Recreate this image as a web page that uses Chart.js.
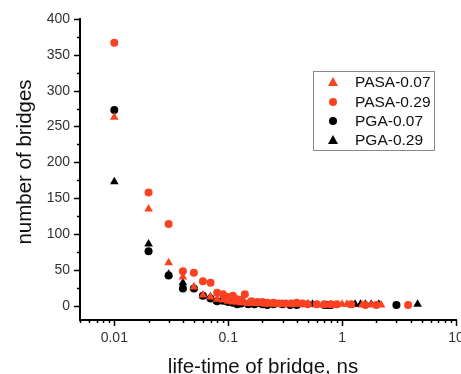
<!DOCTYPE html>
<html>
<head>
<meta charset="utf-8">
<script src="https://cdn.jsdelivr.net/npm/chart.js@4.4.1/dist/chart.umd.min.js"></script>
<style>
  body { margin: 0; background: #fff; }
  canvas { display: block; }
</style>
</head>
<body>
<canvas id="bridgeChart" width="461" height="374"></canvas>
<script>
// life-time (ns) and number of bridges
const pasa007X = [0.01, 0.02, 0.03, 0.04, 0.05, 0.06, 0.07, 0.08, 0.09, 0.1, 0.11, 0.12, 0.13, 0.14, 0.15, 0.17, 0.19, 0.21, 0.24, 0.27, 0.3, 0.35, 0.4, 0.5, 0.6, 0.7, 0.8, 1.0, 1.1, 1.2, 1.5, 1.8, 2.2];
const pasa007Y = [263, 135, 60, 40, 26, 15, 12, 9, 8, 6, 5, 5, 4, 4, 3, 3, 3, 2, 2, 2, 2, 2, 2, 2, 1, 1, 1, 2, 2, 1, 1, 1, 1];

const pasa029X = [0.01, 0.02, 0.03, 0.04, 0.05, 0.06, 0.07, 0.08, 0.09, 0.1, 0.11, 0.12, 0.13, 0.14, 0.16, 0.18, 0.2, 0.22, 0.25, 0.28, 0.32, 0.36, 0.4, 0.45, 0.5, 0.6, 0.7, 0.8, 0.9, 1.2, 1.6, 2.0, 3.8];
const pasa029Y = [367, 158, 114, 48, 46, 34, 32, 18, 16, 12, 14, 9, 8, 16, 6, 5, 5, 4, 4, 3, 3, 3, 4, 3, 2, 2, 2, 2, 2, 2, 1, 1, 1];

const pga007X = [0.01, 0.02, 0.03, 0.04, 0.05, 0.06, 0.07, 0.08, 0.09, 0.1, 0.11, 0.12, 0.13, 0.15, 0.17, 0.2, 0.22, 0.25, 0.3, 0.35, 0.4, 0.7, 0.75, 0.8, 3.0];
const pga007Y = [273, 76, 42, 24, 24, 14, 10, 6, 7, 5, 4, 2, 3, 2, 2, 2, 1, 2, 2, 1, 1, 1, 1, 1, 1];

const pga029X = [0.01, 0.02, 0.03, 0.04, 0.05, 0.06, 0.07, 0.08, 0.09, 0.1, 0.11, 0.12, 0.14, 0.16, 0.18, 0.2, 0.23, 0.26, 0.3, 0.5, 0.55, 1.3, 1.45, 1.6, 1.8, 2.1, 4.6];
const pga029Y = [173, 86, 44, 32, 25, 14, 12, 6, 7, 5, 4, 4, 3, 3, 2, 3, 2, 2, 2, 2, 2, 2, 2, 2, 2, 2, 2];

const seriesNames = ['PASA-0.07', 'PASA-0.29', 'PGA-0.07', 'PGA-0.29'];
const xTickLabels = [0.01, 0.1, 1, 10];
const yTickLabels = [0, 50, 100, 150, 200, 250, 300, 350, 400];

const RED = '#fa4122';
const BLACK = '#000000';

function toPoints(xs, ys) {
    return xs.map((x, i) => ({ x: x, y: ys[i] }));
}

function makeSet(label, xs, ys, color, style, radius) {
    return {
        label: label,
        data: toPoints(xs, ys),
        pointStyle: style,
        pointRadius: radius,
        pointHoverRadius: radius,
        backgroundColor: color,
        borderColor: color,
        pointBorderWidth: 0,
        showLine: false
    };
}

// ticks, minor ticks, axis titles and the boxed legend
const extrasPlugin = {
    id: 'extras',
    afterDraw(chart) {
        const ctx = chart.ctx;
        const xs = chart.scales.x;
        const ys = chart.scales.y;
        const area = chart.chartArea;
        ctx.save();
        ctx.strokeStyle = '#000';
        ctx.lineWidth = 1.5;

        // y ticks
        for (let v = 0; v <= 400; v += 25) {
            const py = Math.round(ys.getPixelForValue(v)) + 0.5;
            const len = v % 50 === 0 ? 6 : 3;
            ctx.beginPath();
            ctx.moveTo(area.left, py);
            ctx.lineTo(area.left - len, py);
            ctx.stroke();
        }
        // x ticks (log)
        for (let e = -3; e <= 1; e++) {
            for (let m = 1; m <= 9; m++) {
                const v = m * Math.pow(10, e);
                if (v < xs.min * 0.999 || v > xs.max * 1.001) continue;
                const px = Math.round(xs.getPixelForValue(v)) + 0.5;
                const len = m === 1 ? 6 : 3;
                ctx.beginPath();
                ctx.moveTo(px, area.bottom);
                ctx.lineTo(px, area.bottom + len);
                ctx.stroke();
            }
        }

        // axis titles
        ctx.fillStyle = '#111';
        ctx.font = '20.5px "Liberation Sans", Arial, sans-serif';
        ctx.textAlign = 'center';
        ctx.textBaseline = 'alphabetic';
        ctx.fillText('life-time of bridge, ns', 263, 373);
        ctx.save();
        ctx.translate(31, 162);
        ctx.rotate(-Math.PI / 2);
        ctx.fillText('number of bridges', 0, 0);
        ctx.restore();

        // legend box
        const bx = 313, by = 71, bw = 121, bh = 79;
        ctx.fillStyle = '#fff';
        ctx.fillRect(bx, by, bw, bh);
        ctx.strokeStyle = '#8a8a8a';
        ctx.lineWidth = 1;
        ctx.strokeRect(bx + 0.5, by + 0.5, bw, bh);
        ctx.font = '15.5px "Liberation Sans", Arial, sans-serif';
        ctx.textAlign = 'left';
        ctx.textBaseline = 'middle';
        const rows = [82, 102, 121, 140];
        chart.data.datasets.forEach((ds, i) => {
            const cy = rows[i];
            ctx.fillStyle = ds.backgroundColor;
            ctx.beginPath();
            if (ds.pointStyle === 'triangle') {
                ctx.moveTo(333, cy - 5);
                ctx.lineTo(338, cy + 4);
                ctx.lineTo(328, cy + 4);
                ctx.closePath();
            } else {
                ctx.arc(333, cy, 4, 0, Math.PI * 2);
            }
            ctx.fill();
            ctx.fillStyle = '#111';
            ctx.fillText(ds.label, 355, cy + 1);
        });
        ctx.restore();
    }
};

const ctx = document.getElementById('bridgeChart').getContext('2d');
const chart = new Chart(ctx, {
    type: 'scatter',
    data: {
        datasets: [
            makeSet(seriesNames[0], pasa007X, pasa007Y, RED, 'triangle', 5),
            makeSet(seriesNames[1], pasa029X, pasa029Y, RED, 'circle', 4),
            makeSet(seriesNames[2], pga007X, pga007Y, BLACK, 'circle', 4),
            makeSet(seriesNames[3], pga029X, pga029Y, BLACK, 'triangle', 5)
        ]
    },
    options: {
        responsive: false,
        animation: false,
        layout: { padding: { left: 0, top: 19, right: 5, bottom: 0 } },
        plugins: {
            legend: { display: false },
            tooltip: { enabled: false }
        },
        scales: {
            x: {
                type: 'logarithmic',
                min: 0.005,
                max: 10,
                grid: { display: false, drawTicks: false },
                border: { display: true, color: '#000', width: 2 },
                ticks: {
                    padding: 10,
                    color: '#333',
                    font: { size: 14, family: '"Liberation Sans", Arial, sans-serif' },
                    autoSkip: false,
                    maxRotation: 0,
                    callback: (v) => xTickLabels.find(t => Math.abs(t - v) < t * 1e-6) !== undefined ? String(v) : ''
                },
                afterFit(scale) {
                    scale.height = 54;
                    scale.paddingLeft = 0;
                    scale.paddingRight = 0;
                }
            },
            y: {
                min: -20,
                max: 400,
                grid: { display: false, drawTicks: false },
                border: { display: true, color: '#000', width: 2 },
                ticks: {
                    stepSize: 50,
                    includeBounds: false,
                    padding: 10,
                    color: '#333',
                    font: { size: 14, family: '"Liberation Sans", Arial, sans-serif' },
                    callback: (v) => yTickLabels.includes(v) ? String(v) : ''
                },
                afterFit(scale) {
                    scale.width = 80;
                    scale.paddingTop = 0;
                    scale.paddingBottom = 0;
                }
            }
        }
    },
    plugins: [extrasPlugin]
});
</script>
</body>
</html>
